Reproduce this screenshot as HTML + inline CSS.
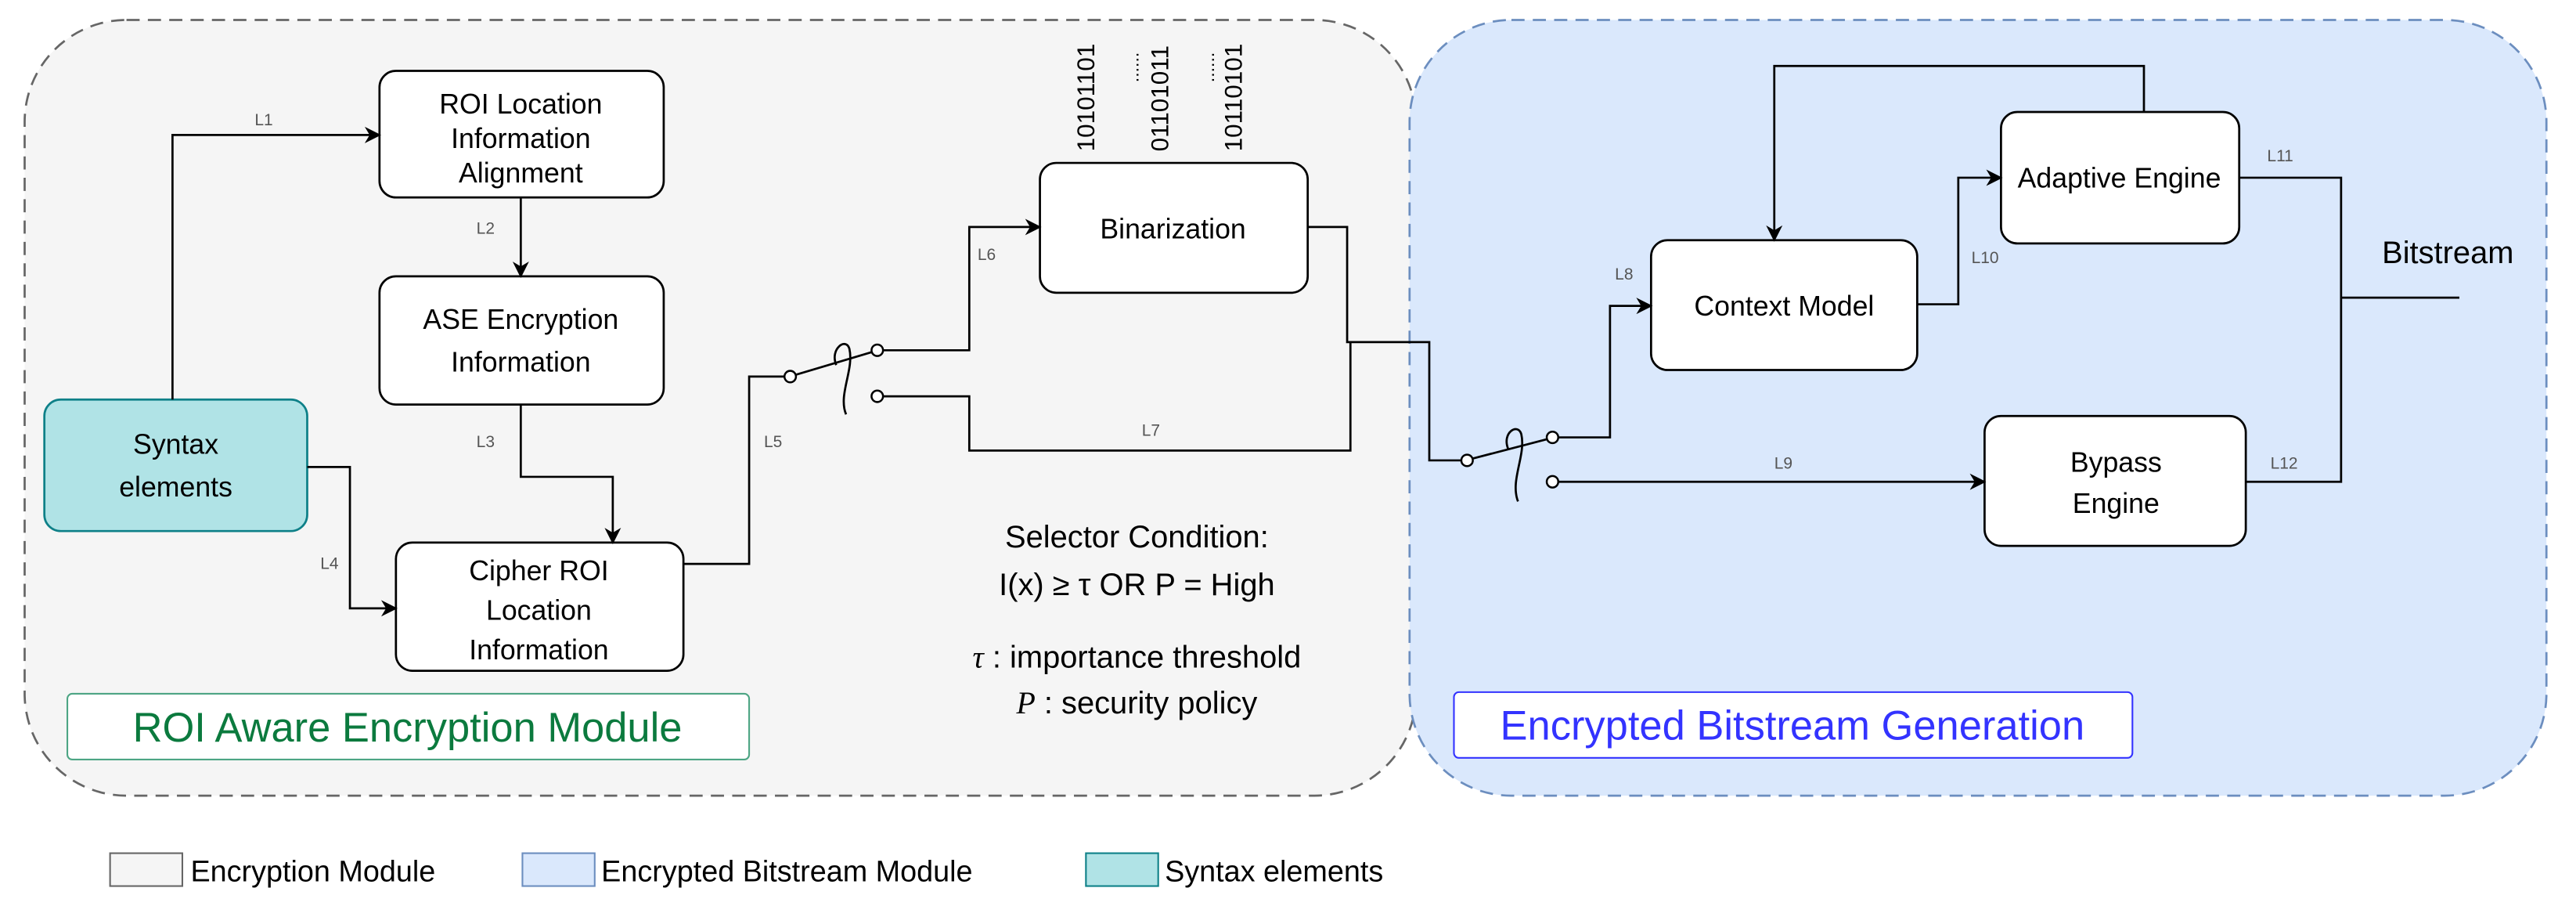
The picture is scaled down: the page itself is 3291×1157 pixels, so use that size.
<!DOCTYPE html>
<html><head><meta charset="utf-8"><style>html,body{margin:0;padding:0;background:#fff}svg{display:block}</style></head>
<body>
<svg width="3291" height="1157" viewBox="0 0 1568 551" xmlns="http://www.w3.org/2000/svg" font-family="Liberation Sans, sans-serif">
<defs><marker id="a" markerWidth="10" markerHeight="10" refX="9" refY="5" orient="auto" markerUnits="userSpaceOnUse"><path d="M0,0 L10,5 L0,10 L3,5 z" fill="#000"/></marker></defs>
<rect x="15" y="12" width="847" height="472" rx="62" fill="#f5f5f5" stroke="#666" stroke-width="1.3" stroke-dasharray="8,5"/>
<rect x="858" y="12" width="692" height="472" rx="62" fill="#dae8fc" stroke="#6c8ebf" stroke-width="1.3" stroke-dasharray="8,5"/>
<g fill="#fff" stroke="#000" stroke-width="1.3">
<rect x="231" y="43" width="173" height="77" rx="10"/>
<rect x="231" y="168" width="173" height="78" rx="10"/>
<rect x="241" y="330" width="175" height="78" rx="10"/>
<rect x="633" y="99" width="163" height="79" rx="10"/>
<rect x="1005" y="146" width="162" height="79" rx="10"/>
<rect x="1218" y="68" width="145" height="80" rx="10"/>
<rect x="1208" y="253" width="159" height="79" rx="10"/>
</g>
<rect x="27" y="243" width="160" height="80" rx="10" fill="#b0e3e6" stroke="#0e8088" stroke-width="1.3"/>
<g fill="none" stroke="#000" stroke-width="1.3">
<path d="M105,243 V82 H231" marker-end="url(#a)"/>
<path d="M187,284 H213 V370 H241" marker-end="url(#a)"/>
<path d="M317,120 V168" marker-end="url(#a)"/>
<path d="M317,246 V290 H373 V330" marker-end="url(#a)"/>
<path d="M416,343 H456 V229 H478"/>
<path d="M537,213 H590 V138 H633" marker-end="url(#a)"/>
<path d="M537,241 H590 V274 H822 V208"/>
<path d="M796,138 H820 V208 H870 V280 H890"/>
<path d="M948,266 H980 V186 H1005" marker-end="url(#a)"/>
<path d="M948,293 H1208" marker-end="url(#a)"/>
<path d="M1305,68 V40 H1080 V146" marker-end="url(#a)"/>
<path d="M1167,185 H1192 V108 H1218" marker-end="url(#a)"/>
<path d="M1363,108 H1425 V293 H1367"/>
<path d="M1425,181 H1497"/>
<path d="M484,228 L531,214"/><path d="M509,222 C505,212 515,205 517,212 C520,225 510,240 515,252"/>
<path d="M896,279 L942,267"/><path d="M918,273 C914,263 924,257 926,264 C929,277 919,292 924,305"/>
</g>
<g fill="#fff" stroke="#000" stroke-width="1.2">
<circle cx="481" cy="229" r="3.5"/><circle cx="534" cy="213" r="3.5"/><circle cx="534" cy="241" r="3.5"/>
<circle cx="893" cy="280" r="3.5"/><circle cx="945" cy="266" r="3.5"/><circle cx="945" cy="293" r="3.5"/>
</g>
<g font-size="17" text-anchor="middle" fill="#000">
<text x="317" y="69">ROI Location</text><text x="317" y="90">Information</text><text x="317" y="111">Alignment</text>
<text x="317" y="200">ASE Encryption</text><text x="317" y="226">Information</text>
<text x="107" y="276">Syntax</text><text x="107" y="302">elements</text>
<text x="328" y="353">Cipher ROI</text><text x="328" y="377">Location</text><text x="328" y="401">Information</text>
<text x="714" y="145">Binarization</text>
<text x="1086" y="192">Context Model</text>
<text x="1290" y="114">Adaptive Engine</text>
<text x="1288" y="287">Bypass</text><text x="1288" y="312">Engine</text>
</g>
<g font-size="15" fill="#000">
<text transform="translate(666,92) rotate(-90)">10101101</text>
<text transform="translate(711,92) rotate(-90)">01101011</text>
<text transform="translate(756,92) rotate(-90)">10110101</text>
<text transform="translate(693,50) rotate(-90)" font-size="11">......</text>
<text transform="translate(739,50) rotate(-90)" font-size="11">......</text>
</g>
<g font-size="19" text-anchor="middle" fill="#000" xml:space="preserve">
<text x="692" y="333">Selector Condition:</text>
<text x="692" y="362">I(x) ≥ τ  OR  P = High</text>
<text x="692" y="406"><tspan font-family="Liberation Serif, serif" font-style="italic">τ</tspan> : importance threshold</text>
<text x="692" y="434"><tspan font-family="Liberation Serif, serif" font-style="italic">P</tspan> : security policy</text>
<text x="1490" y="160">Bitstream</text>
</g>
<g font-size="10" fill="#555">
<text x="155" y="76">L1</text><text x="290" y="142">L2</text><text x="290" y="272">L3</text><text x="195" y="346">L4</text>
<text x="465" y="272">L5</text><text x="595" y="158">L6</text><text x="695" y="265">L7</text><text x="983" y="170">L8</text>
<text x="1080" y="285">L9</text><text x="1200" y="160">L10</text><text x="1380" y="98">L11</text><text x="1382" y="285">L12</text>
</g>
<rect x="41" y="422" width="415" height="40" rx="3" fill="#fff" stroke="#4da584" stroke-width="1"/>
<text x="248" y="451" font-size="25" text-anchor="middle" fill="#0b7a3e">ROI Aware Encryption Module</text>
<rect x="885" y="421" width="413" height="40" rx="3" fill="#fff" stroke="#3333ff" stroke-width="1"/>
<text x="1091" y="450" font-size="25" text-anchor="middle" fill="#3333ff">Encrypted Bitstream Generation</text>
<rect x="67" y="519" width="44" height="20" fill="#f5f5f5" stroke="#666"/>
<text x="116" y="536" font-size="18">Encryption Module</text>
<rect x="318" y="519" width="44" height="20" fill="#dae8fc" stroke="#6c8ebf"/>
<text x="366" y="536" font-size="18">Encrypted Bitstream Module</text>
<rect x="661" y="519" width="44" height="20" fill="#b0e3e6" stroke="#0e8088"/>
<text x="709" y="536" font-size="18">Syntax elements</text>
</svg>
</body></html>
